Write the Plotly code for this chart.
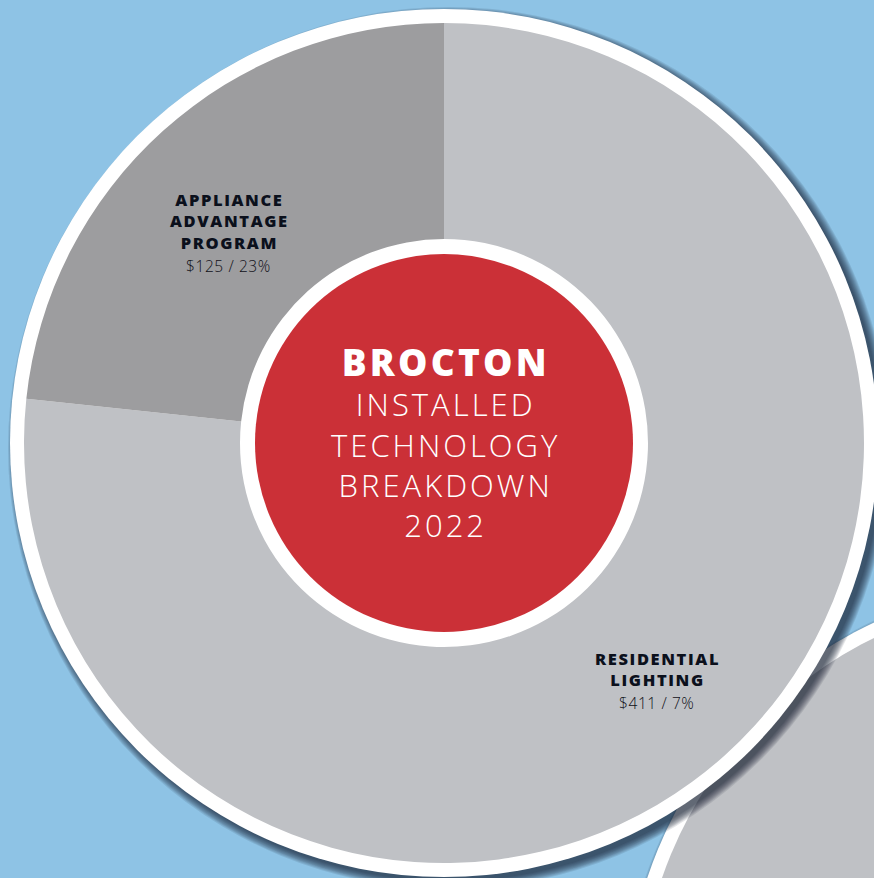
import plotly.graph_objects as go

# data
programs = ["APPLIANCE<br>ADVANTAGE<br>PROGRAM", "RESIDENTIAL<br>LIGHTING"]
amounts = [125, 411]
pct_labels = ["23%", "7%"]
slice_colors = ["#9d9d9f", "#bfc1c5"]
title_lines = ["BROCTON", "INSTALLED", "TECHNOLOGY", "BREAKDOWN", "2022"]

W, H = 874, 878
BG = "#8ec3e5"
RED = "#cb3037"

def px(x):
    return x / W

def py(y):
    return 1 - y / H

def circle(cx, cy, r, color, layer="below"):
    return dict(type="circle", xref="paper", yref="paper",
                x0=px(cx - r), x1=px(cx + r), y0=py(cy + r), y1=py(cy - r),
                fillcolor=color, line=dict(width=0), layer=layer)

def spaced(s, ls, extra=""):
    return f'<span style="letter-spacing:{ls}px;{extra}">{s}</span>'

cx, cy = 444, 443
r_outer, r_pie, r_hole, r_red = 434, 420, 204, 189
cx2, cy2 = 1059, 1015

shapes = []
# second (cropped) donut with its shadow
for k in range(8):
    shapes.append(circle(cx2 + 4, cy2 + 4, r_outer + 7 - k, "rgba(15,30,45,0.10)"))
shapes.append(circle(cx2, cy2, r_outer, "white"))
shapes.append(circle(cx2, cy2, r_pie, "#bfc1c5"))
# main donut shadow
for k in range(9):
    shapes.append(circle(cx + 5, cy + 5, r_outer + 7 - k, "rgba(15,30,45,0.11)"))
shapes.append(circle(cx, cy, r_outer, "white"))
shapes.append(circle(cx, cy, r_red, RED))

fig = go.Figure()
# listed in reverse so the appliance slice sits left of 12 o'clock
fig.add_trace(go.Pie(
    labels=["Residential Lighting", "Appliance Advantage Program"],
    values=amounts[::-1],
    marker=dict(colors=slice_colors[::-1], line=dict(width=0)),
    hole=r_hole / r_pie,
    sort=False,
    direction="clockwise",
    rotation=0,
    textinfo="none",
    hoverinfo="label+value",
    domain=dict(x=[px(cx - r_pie), px(cx + r_pie)], y=[py(cy + r_pie), py(cy - r_pie)]),
    showlegend=False,
))

FONT = "Open Sans"
annotations = []
label_pos = [(228, 221, 266), (656, 669, 703)]
for name, amt, pct, (lx, ly, vy) in zip(programs, amounts, pct_labels, label_pos):
    annotations.append(dict(x=px(lx + 1), y=py(ly), xref="paper", yref="paper",
                            text="<br>".join(spaced(t, 1.6) for t in name.split("<br>")),
                            showarrow=False, xanchor="center", yanchor="middle",
                            font=dict(family=FONT, size=16.5, color="#0b101c", weight=800)))
    annotations.append(dict(x=px(lx), y=py(vy), xref="paper", yref="paper",
                            text=spaced(f"${amt} / {pct}", 0.6), showarrow=False,
                            xanchor="center", yanchor="middle",
                            font=dict(family=FONT, size=15.5, color="#101018", weight=300)))

# centre title as one block
title_html = [spaced(title_lines[0], 3.2, "font-size:37px;font-weight:800")]
title_html += [spaced(t, 3.0) for t in title_lines[1:]]
annotations.append(dict(x=px(cx + 1.5), y=py(441), xref="paper", yref="paper",
                        text="<br>".join(title_html), showarrow=False,
                        xanchor="center", yanchor="middle",
                        font=dict(family=FONT, size=31, color="white", weight=300)))

fig.update_layout(
    width=W, height=H,
    margin=dict(l=0, r=0, t=0, b=0),
    paper_bgcolor=BG,
    plot_bgcolor=BG,
    shapes=shapes,
    annotations=annotations,
)

fig.write_html("out.html", config={"displayModeBar": False},
               post_script="document.body.style.margin='0';")
